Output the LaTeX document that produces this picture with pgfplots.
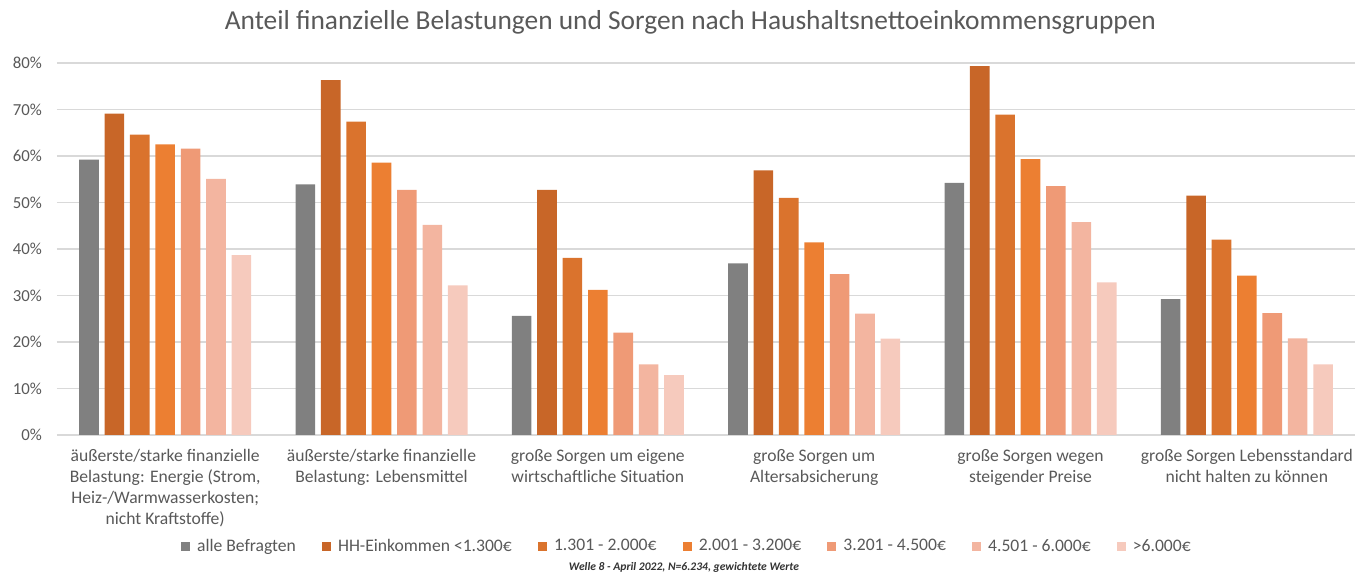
\documentclass[border=0pt]{standalone}
\usepackage{pgfplots}
\pgfplotsset{compat=1.18}
\usepackage{fontspec}
\setmainfont{Carlito}
\definecolor{txt}{HTML}{595959}
\definecolor{gridc}{HTML}{D9D9D9}
\definecolor{cA}{HTML}{808080}
\definecolor{cB}{HTML}{C86628}
\definecolor{cC}{HTML}{DA732D}
\definecolor{cD}{HTML}{EC7F32}
\definecolor{cE}{HTML}{EF9A76}
\definecolor{cF}{HTML}{F3B5A0}
\definecolor{cG}{HTML}{F6CABD}
\begin{document}
\begin{tikzpicture}
\begin{axis}[
  scale only axis,
  width=649pt, height=186pt,
  xmin=-0.5, xmax=5.5, ymin=0, ymax=80,
  ybar=2.9pt, bar width=9.8pt,
  axis line style={draw=none},
  axis x line*=bottom, axis y line*=left,
  ytick={0,10,...,80},
  yticklabel={\pgfmathprintnumber{\tick}\%},
  /pgf/number format/assume math mode=true,
  ymajorgrids, grid style={gridc, line width=0.6pt},
  major tick length=0pt,
  yticklabel style={font=\fontsize{8.4}{9}\selectfont, text=txt, xshift=-4pt},
  xtick={0,...,5},
  xticklabels={
    {äußerste/starke finanzielle\\Belastung: Energie (Strom,\\Heiz-/Warmwasserkosten;\\nicht Kraftstoffe)},
    {äußerste/starke finanzielle\\Belastung: Lebensmittel},
    {große Sorgen um eigene\\wirtschaftliche Situation},
    {große Sorgen um\\Altersabsicherung},
    {große Sorgen wegen\\steigender Preise},
    {große Sorgen Lebensstandard\\nicht halten zu können}},
  xticklabel style={font=\fontsize{8.8}{10.6}\selectfont, text=txt, align=center, anchor=north, yshift=-3.5pt},
  legend style={at={(axis description cs:0.486,-0.30)}, anchor=center, draw=none,
    font=\fontsize{8.8}{9}\selectfont, text=txt, legend columns=7,
    /tikz/every odd column/.append style={column sep=1.5pt},
    /tikz/every even column/.append style={column sep=11pt}},
  legend image code/.code={\draw[#1,draw=none] (0pt,-2.3pt) rectangle (4.6pt,2.3pt);},
  clip=false,
]
\draw[gridc, line width=0.6pt] (axis cs:-0.5,0) -- (axis cs:5.5,0);
\addplot[fill=cA, draw=none] coordinates {(0,59.2) (1,53.9) (2,25.6) (3,36.9) (4,54.2) (5,29.2)};
\addplot[fill=cB, draw=none] coordinates {(0,69.1) (1,76.3) (2,52.7) (3,56.9) (4,79.3) (5,51.5)};
\addplot[fill=cC, draw=none] coordinates {(0,64.6) (1,67.4) (2,38.1) (3,51.0) (4,68.9) (5,42.0)};
\addplot[fill=cD, draw=none] coordinates {(0,62.5) (1,58.6) (2,31.2) (3,41.4) (4,59.3) (5,34.3)};
\addplot[fill=cE, draw=none] coordinates {(0,61.6) (1,52.7) (2,22.0) (3,34.6) (4,53.5) (5,26.2)};
\addplot[fill=cF, draw=none] coordinates {(0,55.1) (1,45.2) (2,15.2) (3,26.1) (4,45.8) (5,20.8)};
\addplot[fill=cG, draw=none] coordinates {(0,38.7) (1,32.2) (2,12.9) (3,20.7) (4,32.8) (5,15.2)};
\legend{alle Befragten, HH-Einkommen <1.300€, 1.301 - 2.000€, 2.001 - 3.200€, 3.201 - 4.500€, 4.501 - 6.000€, >6.000€}
\node[font=\fontsize{13.7}{15}\selectfont, text=txt] at (axis description cs:0.488,1.11) {Anteil finanzielle Belastungen und Sorgen nach Haushaltsnettoeinkommensgruppen};
\node[font=\fontsize{5.8}{6.5}\selectfont\bfseries\itshape, text=black!80] at (axis description cs:0.483,-0.357) {Welle 8 - April 2022, N=6.234, gewichtete Werte};
\path (rel axis cs:0,0) ++(-28.5pt,-73.5pt) rectangle ++(684pt,291pt);
\end{axis}
\end{tikzpicture}
\end{document}
